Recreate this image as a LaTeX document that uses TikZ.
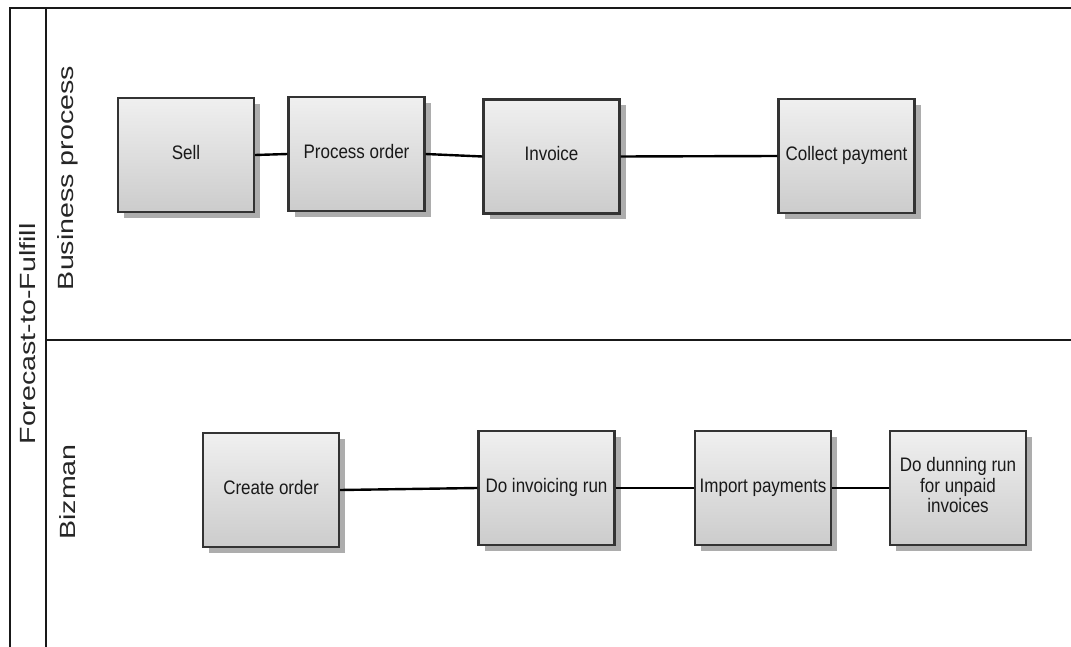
\documentclass[tikz,border=0pt]{standalone}
\usepackage{fontspec}
\usepackage{graphicx}
\setmainfont{Liberation Sans}
\usetikzlibrary{shadows}
% box captions: slightly tall lettering
\newcommand\tasktext[1]{\scalebox{1}[1.15]{\begin{tabular}{@{}c@{}}#1\end{tabular}}}
% lane captions: lettering stretched along the reading direction
\newcommand\lanetext[1]{\scalebox{1.3}[1]{#1}}
\begin{document}
\begin{tikzpicture}[x=1pt,y=-1pt,
  frame/.style={line width=2pt,black!90},
  task/.style={draw=black!80,line width=2.2pt,minimum width=136pt,minimum height=114pt,
    top color=black!6,bottom color=black!20,align=center,inner sep=0pt,
    font=\fontsize{17}{18}\selectfont,text=black!90,
    drop shadow={shadow xshift=6pt,shadow yshift=-6pt,fill=black!32,opacity=1}},
  link/.style={line width=2.4pt,black},
  lane/.style={rotate=90,font=\fontsize{22}{26}\selectfont,text=black!85}]
\useasboundingbox (0,0) rectangle (1071,647);
\fill[white] (0,0) rectangle (1071,647);

% pool and lane frame
\draw[frame] (10,647) -- (10,8) -- (1071,8);
\draw[frame] (46,8) -- (46,647);
\draw[frame] (46,340) -- (1071,340);

% pool and lane titles
\node[lane] (pool) at (28,334) {\lanetext{Forecast-to-Fulfill}};
\node[lane] (bp) at (68,178) {\lanetext{Business process}};
\node[lane] (bz) at (68,492) {\lanetext{Bizman}};

% business process lane
\node[task] (sell) at (186,155) {\tasktext{Sell}};
\node[task] (po) at (356.5,154) {\tasktext{Process order}};
\node[task] (inv) at (551.5,156.5) {\tasktext{Invoice}};
\node[task] (cp) at (846.5,156) {\tasktext{Collect payment}};

% Bizman lane
\node[task] (co) at (271,490) {\tasktext{Create order}};
\node[task] (dir) at (546.5,488) {\tasktext{Do invoicing run}};
\node[task] (ip) at (763,488) {\tasktext{Import payments}};
\node[task] (dd) at (958,488) {\tasktext{Do dunning run\\for unpaid\\invoices}};

% connectors
\draw[link] (sell.east) -- (po.west);
\draw[link] (po.east) -- (inv.west);
\draw[link] (inv.east) -- (cp.west);
\draw[link] (co.east) -- (dir.west);
\draw[link] (dir.east) -- (ip.west);
\draw[link] (ip.east) -- (dd.west);
\end{tikzpicture}
\end{document}
